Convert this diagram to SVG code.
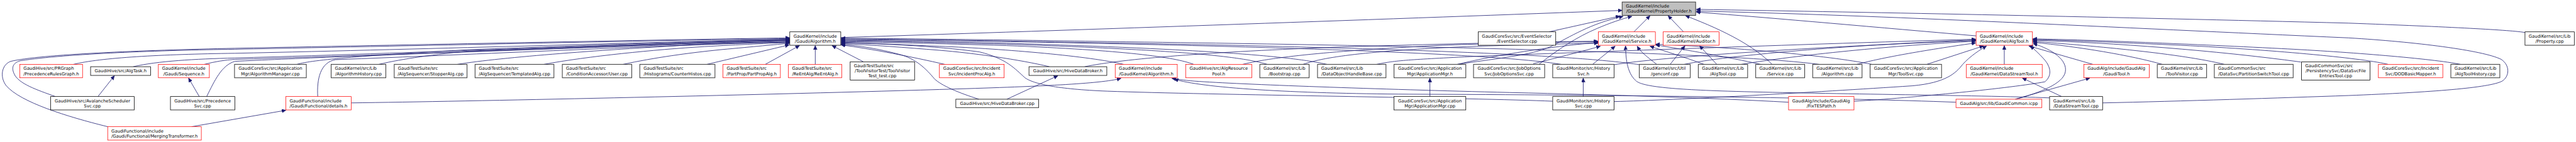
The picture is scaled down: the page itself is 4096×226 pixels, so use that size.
<svg xmlns="http://www.w3.org/2000/svg" width="4096" height="226" viewBox="0 0 4096 226">
<style>
.nd rect{fill:#fff}
.k rect{stroke:#000;stroke-width:1.5}
.g rect{stroke:#404040;stroke-width:2}
.r rect{stroke:#f00;stroke-width:1.4}
.root rect{fill:#bfbfbf;stroke:#404040;stroke-width:2}
text{font-family:"DejaVu Sans","Liberation Sans",Arial,sans-serif;font-size:12.9px;fill:#000}
.c{text-anchor:middle}
#edges path{fill:none;stroke:#191970;stroke-width:1.5;marker-end:url(#ah)}
</style>
<defs>
<marker id="ah" markerUnits="userSpaceOnUse" markerWidth="14" markerHeight="12" refX="12" refY="5.5" orient="auto" viewBox="0 0 14 12"><path d="M0,0 L12,5.5 L0,11 z" fill="#191970" stroke="#191970" stroke-width="1"/></marker>
</defs>
<rect x="0" y="0" width="4096" height="226" fill="#fff"/>
<g transform="scale(0.53347)">
<g id="edges">
<path d="M321,378 C200,348 60,305 18,255 C-2,228 6,192 32,183 C120,162 420,150 700,144 C1300,132 2000,118 2354,113"/>
<path d="M165,288 C110,268 55,250 42,220 C32,198 42,186 62,181 C200,160 480,150 700,147 C1300,135 2000,120 2354,115"/>
<path d="M219,192 C300,172 480,162 700,159 C1300,146 2000,124 2354,117"/>
<path d="M397,199 C470,182 580,176 700,173 C1300,156 2000,127 2354,119"/>
<path d="M609,192 C640,184 670,179 700,177 C1300,160 2000,129 2354,121"/>
<path d="M616,288 C640,240 660,195 700,183 C1000,168 1900,136 2354,123"/>
<path d="M947,288 C944,235 955,186 1000,178 C1400,163 2000,134 2354,125"/>
<path d="M885,192 C930,178 1100,165 1400,148 C1800,134 2100,122 2354,118"/>
<path d="M1129,192 C1200,175 1300,162 1400,152 C1800,138 2100,126 2354,120"/>
<path d="M1363,192 C1500,170 1800,148 2100,132 C2200,128 2300,126 2354,126"/>
<path d="M1621,192 C1750,168 1950,148 2100,139 C2200,133 2300,129 2354,127"/>
<path d="M1857,192 C1950,172 2050,158 2150,148 C2250,139 2310,133 2354,129"/>
<path d="M2107,192 L2352,134"/>
<path d="M2281,192 L2383,136"/>
<path d="M2430,192 L2430,136"/>
<path d="M2573,184 L2480,136"/>
<path d="M2816,192 C2720,170 2600,146 2507,134"/>
<path d="M3128,199 C3040,178 2900,158 2800,150 C2700,142 2600,134 2507,130"/>
<path d="M3349,192 C3250,168 3000,146 2800,138 C2700,134 2600,129 2507,126"/>
<path d="M2918,296 C2860,278 2805,255 2785,235 C2760,205 2730,175 2680,162 C2620,146 2560,136 2507,132"/>
<path d="M3558,192 C3500,170 3350,150 3000,136 C2800,130 2620,126 2507,124"/>
<path d="M3777,192 C3700,168 3500,148 3000,132 C2800,127 2620,123 2507,122"/>
<path d="M3955,192 C3850,168 3600,147 3000,129 C2800,124 2620,121 2507,120"/>
<path d="M4653,192 C4500,166 4000,144 3200,128 C2900,122 2650,119 2507,118"/>
<path d="M4887,193 C4700,165 4200,143 3200,126 C2900,120 2650,117 2507,116"/>
<path d="M5422,192 C5200,163 4500,140 3300,124 C2950,118 2650,115 2507,114"/>
<path d="M4628,302 C4400,292 3600,283 3300,272 C3150,266 3080,250 3055,232 C3025,205 3000,175 2920,155 C2780,136 2620,130 2507,128"/>
<path d="M2506,112 C3200,90 4200,55 4835,31"/>
<path d="M4617,95 L4828,48"/>
<path d="M4343,192 C4480,172 4560,165 4620,140 C4680,110 4740,70 4838,49"/>
<path d="M4587,192 C4640,150 4700,110 4760,85 C4800,68 4835,56 4864,49"/>
<path d="M4870,95 L4918,47"/>
<path d="M5018,95 L4972,47"/>
<path d="M5282,192 C5230,140 5150,95 5024,47"/>
<path d="M5890,107 C5600,82 5300,55 5056,36"/>
<path d="M7526,97 C7490,90 7300,80 7000,69 C6300,51 5600,37 5056,28"/>
<path d="M6267,307 C6500,302 6800,292 7000,285 C7250,275 7420,262 7458,242 C7480,228 7482,195 7455,177 C7400,150 7200,125 7000,113 C6300,82 5600,45 5056,33"/>
<path d="M4345,192 C4450,165 4650,135 4763,127"/>
<path d="M4570,190 C4650,170 4720,152 4770,138"/>
<path d="M4747,192 L4814,138"/>
<path d="M3233,199 C3350,175 3600,155 4000,140 C4400,128 4650,124 4763,123"/>
<path d="M3704,192 C3800,168 4000,150 4300,135 C4500,128 4680,125 4763,125"/>
<path d="M3884,192 C3950,168 4100,150 4400,138 C4600,132 4700,130 4763,129"/>
<path d="M6109,292 C5900,284 5400,280 5150,272 C4960,266 4890,256 4875,240 C4848,215 4846,170 4845,137"/>
<path d="M4938,192 C4910,170 4890,155 4880,138"/>
<path d="M5079,192 C5020,170 4960,152 4918,138"/>
<path d="M5248,192 C5150,170 5020,148 4935,134"/>
<path d="M5579,192 C5450,165 5150,140 4935,132"/>
<path d="M4978,192 L5022,137"/>
<path d="M5117,192 L5066,137"/>
<path d="M4103,192 C4160,180 4200,178 4400,168 C5000,145 5600,125 5889,117"/>
<path d="M4811,193 C4950,170 5400,140 5889,121"/>
<path d="M5020,192 C5150,165 5500,135 5889,119"/>
<path d="M5190,192 C5350,165 5650,135 5889,123"/>
<path d="M5534,192 C5600,175 5700,155 5889,128"/>
<path d="M5743,192 L5912,137"/>
<path d="M4811,303 C5000,298 5400,276 5700,256 C5800,247 5830,218 5850,192 C5875,165 5900,150 5921,137"/>
<path d="M5974,192 L5974,136"/>
<path d="M6238,192 L6047,137"/>
<path d="M5526,302 C5700,292 6000,262 6095,244 C6118,225 6112,198 6092,176 C6078,160 6064,148 6052,137"/>
<path d="M6009,296 C6080,276 6150,250 6156,214 C6162,180 6120,148 6060,130"/>
<path d="M6445,192 C6350,165 6200,140 6059,126"/>
<path d="M6630,192 C6500,160 6250,138 6059,123"/>
<path d="M6858,185 C6600,150 6300,128 6059,120"/>
<path d="M7118,192 C7050,175 6800,150 6500,135 C6300,126 6150,120 6059,118"/>
<path d="M7334,192 C7250,175 7000,155 6800,145 C6500,130 6200,118 6059,116"/>
<path d="M1047,307 C1400,302 2200,285 2800,267 C3100,258 3280,250 3341,234"/>
<path d="M5331,305 C5100,292 4800,283 4500,276 C4100,266 3700,252 3560,242 C3525,239 3505,236 3493,234"/>
<path d="M5830,305 C5500,292 4800,283 4200,281 C3850,279 3580,262 3500,236"/>
<path d="M292,288 L341,226"/>
<path d="M594,288 L562,233"/>
<path d="M571,378 L852,329"/>
<path d="M3001,296 L3153,226"/>
<path d="M4262,288 L4262,233"/>
<path d="M4719,288 L4719,233"/>
<path d="M6145,288 L6028,233"/>
<path d="M6006,296 L6229,233"/>
</g>

<g id="n-PH" class="nd root"><rect x="4835" y="6" width="219" height="40"/><text x="4846" y="22.8">GaudiKernel/include</text><text class="c" x="4944.5" y="38.2">/GaudiKernel/PropertyHolder.h</text></g>

<g id="n-GAlg" class="nd k"><rect x="2354" y="95" width="152" height="40"/><text x="2365" y="111.8">GaudiKernel/include</text><text class="c" x="2430" y="127.2">/Gaudi/Algorithm.h</text></g>
<g id="n-EvSel" class="nd k"><rect x="4406" y="95" width="231" height="40"/><text x="4417" y="111.8">GaudiCoreSvc/src/EventSelector</text><text class="c" x="4521.5" y="127.2">/EventSelector.cpp</text></g>
<g id="n-SvcH" class="nd r"><rect x="4764" y="95" width="170" height="40"/><text x="4775" y="111.8">GaudiKernel/include</text><text class="c" x="4849" y="127.2">/GaudiKernel/Service.h</text></g>
<g id="n-AudH" class="nd r"><rect x="4957" y="95" width="167" height="40"/><text x="4968" y="111.8">GaudiKernel/include</text><text class="c" x="5040.5" y="127.2">/GaudiKernel/Auditor.h</text></g>
<g id="n-ATH" class="nd r"><rect x="5890" y="95" width="168" height="40"/><text x="5901" y="111.8">GaudiKernel/include</text><text class="c" x="5974" y="127.2">/GaudiKernel/AlgTool.h</text></g>
<g id="n-PropCpp" class="nd k"><rect x="7526" y="95" width="147" height="40"/><text x="7537" y="111.8">GaudiKernel/src/Lib</text><text class="c" x="7599.5" y="127.2">/Property.cpp</text></g>

<g id="n-PRG" class="nd r"><rect x="59" y="192" width="187" height="40"/><text x="70" y="208.8">GaudiHive/src/PRGraph</text><text class="c" x="152.5" y="224.2">/PrecedenceRulesGraph.h</text></g>
<g id="n-AlgTask" class="nd k"><rect x="270" y="199" width="179" height="26"/><text class="c" x="359.5" y="216">GaudiHive/src/AlgTask.h</text></g>
<g id="n-Seq" class="nd r"><rect x="472" y="192" width="152" height="40"/><text x="483" y="208.8">GaudiKernel/include</text><text class="c" x="548" y="224.2">/Gaudi/Sequence.h</text></g>
<g id="n-AlgMgrCpp" class="nd g"><rect x="699" y="192" width="214" height="40"/><text class="c" x="806" y="208.8">GaudiCoreSvc/src/Application</text><text class="c" x="806" y="224.2">Mgr/AlgorithmManager.cpp</text></g>
<g id="n-AlgHist" class="nd g"><rect x="987" y="192" width="163" height="40"/><text x="998" y="208.8">GaudiKernel/src/Lib</text><text class="c" x="1068.5" y="224.2">/AlgorithmHistory.cpp</text></g>
<g id="n-Stopper" class="nd g"><rect x="1175" y="192" width="217" height="40"/><text x="1186" y="208.8">GaudiTestSuite/src</text><text class="c" x="1283.5" y="224.2">/AlgSequencer/StopperAlg.cpp</text></g>
<g id="n-Templ" class="nd g"><rect x="1416" y="192" width="235" height="40"/><text x="1427" y="208.8">GaudiTestSuite/src</text><text class="c" x="1533.5" y="224.2">/AlgSequencer/TemplatedAlg.cpp</text></g>
<g id="n-User" class="nd g"><rect x="1676" y="192" width="207" height="40"/><text x="1687" y="208.8">GaudiTestSuite/src</text><text class="c" x="1779.5" y="224.2">/ConditionAccessor/User.cpp</text></g>
<g id="n-CntH" class="nd g"><rect x="1907" y="192" width="224" height="40"/><text x="1918" y="208.8">GaudiTestSuite/src</text><text class="c" x="2019" y="224.2">/Histograms/CounterHistos.cpp</text></g>
<g id="n-PartProp" class="nd r"><rect x="2155" y="192" width="171" height="40"/><text x="2166" y="208.8">GaudiTestSuite/src</text><text class="c" x="2240.5" y="224.2">/PartProp/PartPropAlg.h</text></g>
<g id="n-ReEnt" class="nd r"><rect x="2350" y="192" width="159" height="40"/><text x="2361" y="208.8">GaudiTestSuite/src</text><text class="c" x="2429.5" y="224.2">/ReEntAlg/ReEntAlg.h</text></g>
<g id="n-TVTest" class="nd k"><rect x="2534" y="184.5" width="192" height="54.5"/><text x="2545" y="201.5">GaudiTestSuite/src</text><text class="c" x="2630" y="216">/ToolVisitorTest/ToolVisitor</text><text class="c" x="2630" y="230.5">Test_test.cpp</text></g>
<g id="n-IncProc" class="nd r"><rect x="2800" y="192" width="193" height="40"/><text class="c" x="2896.5" y="208.8">GaudiCoreSvc/src/Incident</text><text class="c" x="2896.5" y="224.2">Svc/IncidentProcAlg.h</text></g>
<g id="n-HDBh" class="nd k"><rect x="3067" y="199" width="232" height="26"/><text class="c" x="3183" y="216">GaudiHive/src/HiveDataBroker.h</text></g>
<g id="n-GKAlg" class="nd r"><rect x="3324" y="192" width="185" height="40"/><text x="3335" y="208.8">GaudiKernel/include</text><text class="c" x="3416.5" y="224.2">/GaudiKernel/Algorithm.h</text></g>
<g id="n-ARP" class="nd r"><rect x="3534" y="192" width="197" height="40"/><text class="c" x="3632.5" y="208.8">GaudiHive/src/AlgResource</text><text class="c" x="3632.5" y="224.2">Pool.h</text></g>
<g id="n-Boot" class="nd g"><rect x="3755" y="192" width="147" height="40"/><text x="3766" y="208.8">GaudiKernel/src/Lib</text><text class="c" x="3828.5" y="224.2">/Bootstrap.cpp</text></g>
<g id="n-DOHB" class="nd g"><rect x="3927" y="192" width="204" height="40"/><text x="3938" y="208.8">GaudiKernel/src/Lib</text><text class="c" x="4029" y="224.2">/DataObjectHandleBase.cpp</text></g>
<g id="n-AppMgrH" class="nd g"><rect x="4155" y="192" width="214" height="40"/><text class="c" x="4262" y="208.8">GaudiCoreSvc/src/Application</text><text class="c" x="4262" y="224.2">Mgr/ApplicationMgr.h</text></g>
<g id="n-JobOpt" class="nd g"><rect x="4392" y="192" width="212" height="40"/><text class="c" x="4498" y="208.8">GaudiCoreSvc/src/JobOptions</text><text class="c" x="4498" y="224.2">Svc/JobOptionsSvc.cpp</text></g>
<g id="n-HistH" class="nd g"><rect x="4628" y="192" width="183" height="40"/><text class="c" x="4719.5" y="208.8">GaudiMonitor/src/History</text><text class="c" x="4719.5" y="224.2">Svc.h</text></g>
<g id="n-Genconf" class="nd g"><rect x="4886" y="192" width="152" height="40"/><text x="4897" y="208.8">GaudiKernel/src/Util</text><text class="c" x="4962" y="224.2">/genconf.cpp</text></g>
<g id="n-ATCpp" class="nd g"><rect x="5062" y="192" width="147" height="40"/><text x="5073" y="208.8">GaudiKernel/src/Lib</text><text class="c" x="5135.5" y="224.2">/AlgTool.cpp</text></g>
<g id="n-SvcCpp" class="nd g"><rect x="5233" y="192" width="146" height="40"/><text x="5244" y="208.8">GaudiKernel/src/Lib</text><text class="c" x="5306" y="224.2">/Service.cpp</text></g>
<g id="n-AlgCpp" class="nd g"><rect x="5403" y="192" width="147" height="40"/><text x="5414" y="208.8">GaudiKernel/src/Lib</text><text class="c" x="5476.5" y="224.2">/Algorithm.cpp</text></g>
<g id="n-ToolSvc" class="nd g"><rect x="5574" y="192" width="213" height="40"/><text class="c" x="5680.5" y="208.8">GaudiCoreSvc/src/Application</text><text class="c" x="5680.5" y="224.2">Mgr/ToolSvc.cpp</text></g>
<g id="n-DSTh" class="nd r"><rect x="5861" y="192" width="226" height="40"/><text x="5872" y="208.8">GaudiKernel/include</text><text class="c" x="5974" y="224.2">/GaudiKernel/DataStreamTool.h</text></g>
<g id="n-GTool" class="nd r"><rect x="6211" y="192" width="195" height="40"/><text x="6222" y="208.8">GaudiAlg/include/GaudiAlg</text><text class="c" x="6308.5" y="224.2">/GaudiTool.h</text></g>
<g id="n-TVis" class="nd g"><rect x="6430" y="192" width="147" height="40"/><text x="6441" y="208.8">GaudiKernel/src/Lib</text><text class="c" x="6503.5" y="224.2">/ToolVisitor.cpp</text></g>
<g id="n-PartSw" class="nd g"><rect x="6600" y="192" width="235" height="40"/><text x="6611" y="208.8">GaudiCommonSvc/src</text><text class="c" x="6717.5" y="224.2">/DataSvc/PartitionSwitchTool.cpp</text></g>
<g id="n-DSFE" class="nd k"><rect x="6860" y="184.5" width="204" height="54.5"/><text x="6871" y="201.5">GaudiCommonSvc/src</text><text class="c" x="6962" y="216">/PersistencySvc/DataSvcFile</text><text class="c" x="6962" y="230.5">EntriesTool.cpp</text></g>
<g id="n-DOD" class="nd r"><rect x="7089" y="192" width="192" height="40"/><text class="c" x="7185" y="208.8">GaudiCoreSvc/src/Incident</text><text class="c" x="7185" y="224.2">Svc/DODBasicMapper.h</text></g>
<g id="n-ATHist" class="nd g"><rect x="7305" y="192" width="146" height="40"/><text x="7316" y="208.8">GaudiKernel/src/Lib</text><text class="c" x="7378" y="224.2">/AlgToolHistory.cpp</text></g>

<g id="n-Aval" class="nd k"><rect x="151" y="288" width="249" height="40"/><text class="c" x="275.5" y="304.8">GaudiHive/src/AvalancheScheduler</text><text class="c" x="275.5" y="320.2">Svc.cpp</text></g>
<g id="n-PrecSvc" class="nd k"><rect x="508" y="288" width="192" height="40"/><text class="c" x="604" y="304.8">GaudiHive/src/Precedence</text><text class="c" x="604" y="320.2">Svc.cpp</text></g>
<g id="n-Details" class="nd r"><rect x="852" y="288" width="195" height="40"/><text x="863" y="304.8">GaudiFunctional/include</text><text class="c" x="949.5" y="320.2">/Gaudi/Functional/details.h</text></g>
<g id="n-HDBcpp" class="nd k"><rect x="2849" y="296" width="247" height="25"/><text class="c" x="2972.5" y="313">GaudiHive/src/HiveDataBroker.cpp</text></g>
<g id="n-AppMgrCpp" class="nd k"><rect x="4155" y="288" width="214" height="40"/><text class="c" x="4262" y="304.8">GaudiCoreSvc/src/Application</text><text class="c" x="4262" y="320.2">Mgr/ApplicationMgr.cpp</text></g>
<g id="n-HistCpp" class="nd k"><rect x="4628" y="288" width="183" height="40"/><text class="c" x="4719.5" y="304.8">GaudiMonitor/src/History</text><text class="c" x="4719.5" y="320.2">Svc.cpp</text></g>
<g id="n-FixTES" class="nd r"><rect x="5331" y="288" width="195" height="40"/><text x="5342" y="304.8">GaudiAlg/include/GaudiAlg</text><text class="c" x="5428.5" y="320.2">/FixTESPath.h</text></g>
<g id="n-GCommon" class="nd r"><rect x="5830" y="296" width="256" height="25"/><text class="c" x="5958" y="313">GaudiAlg/src/lib/GaudiCommon.icpp</text></g>
<g id="n-DSTcpp" class="nd k"><rect x="6109" y="288" width="158" height="40"/><text x="6120" y="304.8">GaudiKernel/src/Lib</text><text class="c" x="6188" y="320.2">/DataStreamTool.cpp</text></g>

<g id="n-Merging" class="nd r"><rect x="321" y="378" width="279" height="40"/><text x="332" y="394.8">GaudiFunctional/include</text><text class="c" x="460.5" y="410.2">/Gaudi/Functional/MergingTransformer.h</text></g>
</g>
</svg>
